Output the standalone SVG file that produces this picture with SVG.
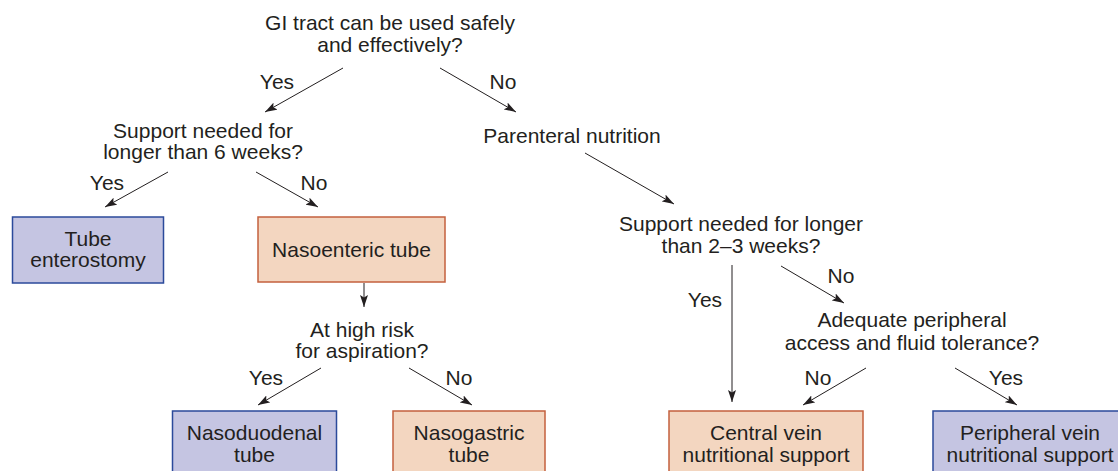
<svg xmlns="http://www.w3.org/2000/svg" width="1118" height="471" viewBox="0 0 1118 471">
<style>
text{font-family:"Liberation Sans",Arial,Helvetica,sans-serif;font-size:21px;fill:#231f20;text-anchor:middle}
.blue{fill:#c5c5e2;stroke:#2b4a9b;stroke-width:1.5}
.peach{fill:#f3d6c0;stroke:#c4603e;stroke-width:1.5}
.c line{stroke:#231f20;stroke-width:1;marker-end:url(#ah)}
</style>
<defs>
<marker id="ah" markerUnits="userSpaceOnUse" markerWidth="12" markerHeight="8" refX="12" refY="4" orient="auto">
<path d="M0,0 L12,4 L0,8 L2.5,4 z" fill="#231f20"/>
</marker>
</defs>
<rect width="1118" height="471" fill="#ffffff"/>
<g id="q-gi">
<text x="390" y="30">GI tract can be used safely</text>
<text x="390" y="52">and effectively?</text>
</g>
<g id="q-6weeks">
<text x="203" y="138">Support needed for</text>
<text x="203" y="159">longer than 6 weeks?</text>
</g>
<g id="parenteral">
<text x="572" y="143">Parenteral nutrition</text>
</g>
<g id="tube-enterostomy">
<rect class="blue" x="12.5" y="217" width="151" height="66"/>
<text x="88" y="246">Tube</text>
<text x="88" y="267">enterostomy</text>
</g>
<g id="nasoenteric">
<rect class="peach" x="258" y="217" width="187" height="65"/>
<text x="351.5" y="257">Nasoenteric tube</text>
</g>
<g id="q-aspiration">
<text x="362" y="337">At high risk</text>
<text x="362" y="358">for aspiration?</text>
</g>
<g id="nasoduodenal">
<rect class="blue" x="172.5" y="411" width="164" height="70"/>
<text x="254.5" y="440">Nasoduodenal</text>
<text x="254.5" y="462">tube</text>
</g>
<g id="nasogastric">
<rect class="peach" x="393" y="411" width="152" height="70"/>
<text x="469" y="440">Nasogastric</text>
<text x="469" y="462">tube</text>
</g>
<g id="q-23weeks">
<text x="741" y="231">Support needed for longer</text>
<text x="741" y="253">than 2–3 weeks?</text>
</g>
<g id="q-peripheral">
<text x="912" y="327">Adequate peripheral</text>
<text x="912" y="350">access and fluid tolerance?</text>
</g>
<g id="central-vein">
<rect class="peach" x="669" y="411" width="194" height="70"/>
<text x="766" y="440">Central vein</text>
<text x="766" y="462">nutritional support</text>
</g>
<g id="peripheral-vein">
<rect class="blue" x="933" y="411" width="194" height="70"/>
<text x="1030" y="440">Peripheral vein</text>
<text x="1030" y="462">nutritional support</text>
</g>
<g id="connectors" class="c">
<line x1="343" y1="68" x2="265" y2="112"/>
<text x="277" y="89">Yes</text>
<line x1="440" y1="68" x2="516" y2="112"/>
<text x="503" y="89">No</text>
<line x1="168" y1="172" x2="105" y2="207"/>
<text x="107" y="190">Yes</text>
<line x1="256" y1="172" x2="318" y2="207"/>
<text x="314" y="190">No</text>
<line x1="364" y1="283" x2="364" y2="307"/>
<line x1="321" y1="368" x2="258" y2="405"/>
<text x="266" y="385">Yes</text>
<line x1="409" y1="368" x2="472" y2="405"/>
<text x="459" y="385">No</text>
<line x1="585" y1="153" x2="674" y2="204"/>
<line x1="732" y1="265" x2="732" y2="402"/>
<text x="705" y="307">Yes</text>
<line x1="781" y1="266" x2="844" y2="303"/>
<text x="841" y="283">No</text>
<line x1="866" y1="368" x2="803" y2="405"/>
<text x="818" y="385">No</text>
<line x1="955" y1="368" x2="1017" y2="405"/>
<text x="1006" y="385">Yes</text>
</g>
</svg>
